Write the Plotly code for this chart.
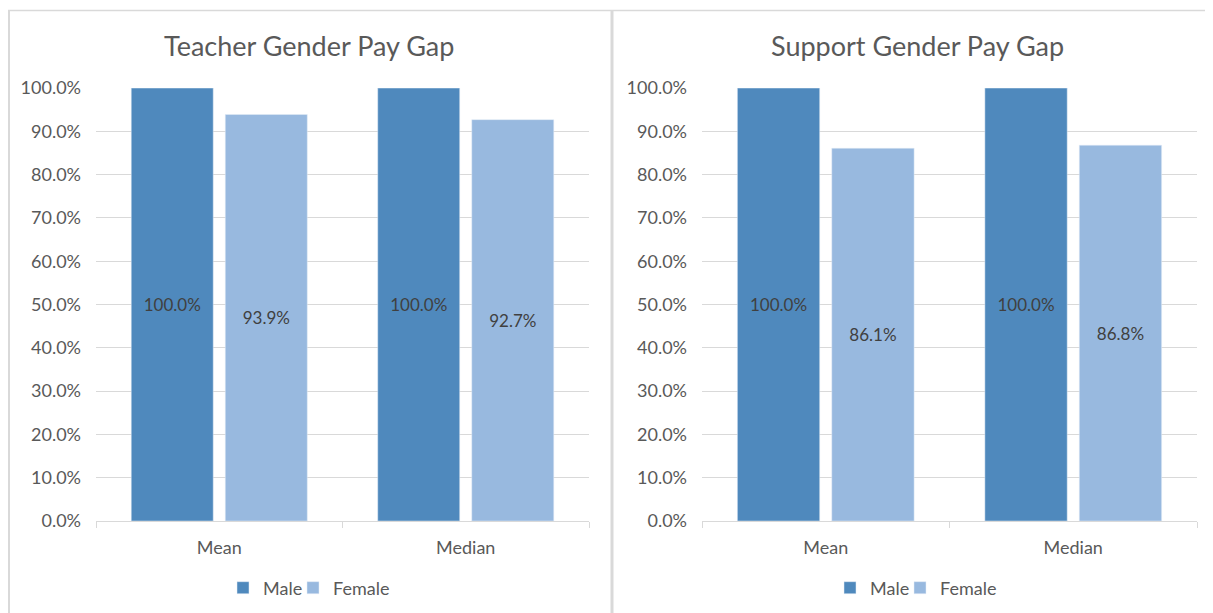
import plotly.graph_objects as go

categories = ["Mean", "Median"]
teacher_male = [1.000, 1.000]
teacher_female = [0.939, 0.927]
support_male = [1.000, 1.000]
support_female = [0.861, 0.868]
titles = ["Teacher Gender Pay Gap", "Support Gender Pay Gap"]

# page body has an 8px margin: size the figure so it fills the rest of the window
OFF = 8
W, H = 1213 - OFF, 613 - OFF
MALE = "#4F89BD"
FEMALE = "#98B9DF"
TXT = "#595959"
GRID = "#D9D9D9"
FONT = "Lato"

def px(x):
    return (x - OFF) / W

def py(y):
    return 1 - (y - OFF) / H

fig = go.Figure()

def add_bar(vals, name, color, xa, ya, leg):
    fig.add_trace(go.Bar(x=categories, y=vals, name=name, marker_color=color,
                         xaxis=xa, yaxis=ya, legend=leg,
                         text=[f"{v:.1%}" for v in vals], textposition="inside",
                         insidetextanchor="middle", textangle=0,
                         textfont=dict(color="#404040", size=17, family=FONT)))

add_bar(teacher_male, "Male", MALE, "x", "y", "legend")
add_bar(teacher_female, "Female", FEMALE, "x", "y", "legend2")
add_bar(support_male, "Male", MALE, "x2", "y2", "legend3")
add_bar(support_female, "Female", FEMALE, "x2", "y2", "legend4")

ydom = [py(521), py(88)]
xcommon = dict(showgrid=False, showline=True, linecolor=GRID, linewidth=1,
               ticks="outside", tickson="boundaries", ticklen=6, tickcolor=GRID,
               tickfont=dict(color=TXT, size=18, family=FONT), ticklabelstandoff=10,
               automargin=False, fixedrange=True)
ycommon = dict(range=[0, 1.0001], dtick=0.1, tickformat=".1%", showgrid=True,
               gridcolor=GRID, gridwidth=1, zeroline=False, showline=False,
               tickfont=dict(color=TXT, size=18, family=FONT), ticklabelstandoff=14,
               automargin=False, fixedrange=True)

legend_common = dict(orientation="h", xanchor="left", yanchor="middle",
                     font=dict(size=18, color=TXT, family=FONT), itemwidth=30,
                     bgcolor="rgba(0,0,0,0)")

fig.update_layout(
    width=W, height=H,
    margin=dict(l=0, r=0, t=0, b=0, pad=0, autoexpand=False),
    paper_bgcolor="white", plot_bgcolor="white",
    barmode="group", bargap=0.237, bargroupgap=0.128,
    font=dict(family=FONT, color=TXT),
    xaxis=dict(domain=[px(96), px(589)], anchor="y", **xcommon),
    yaxis=dict(domain=ydom, anchor="x", **ycommon),
    xaxis2=dict(domain=[px(702), px(1197)], anchor="y2", **xcommon),
    yaxis2=dict(domain=ydom, anchor="x2", **ycommon),
    legend=dict(x=px(223), y=py(588), **legend_common),
    legend2=dict(x=px(293), y=py(588), **legend_common),
    legend3=dict(x=px(830), y=py(588), **legend_common),
    legend4=dict(x=px(900), y=py(588), **legend_common),
    showlegend=True,
)

for t, xc in zip(titles, [309, 917]):
    fig.add_annotation(text=t, x=px(xc), y=py(45), xref="paper", yref="paper",
                       showarrow=False, xanchor="center", yanchor="middle",
                       font=dict(size=27, color=TXT, family=FONT))

# chart borders
fig.add_shape(type="line", xref="paper", yref="paper", x0=px(8), x1=1, y0=py(10.5), y1=py(10.5),
              line=dict(color=GRID, width=1.5))
fig.add_shape(type="line", xref="paper", yref="paper", x0=px(9), x1=px(9), y0=py(10), y1=0,
              line=dict(color=GRID, width=2))
fig.add_shape(type="line", xref="paper", yref="paper", x0=px(612), x1=px(612), y0=py(10), y1=0,
              line=dict(color=GRID, width=3))

fig.write_html("out.html")
